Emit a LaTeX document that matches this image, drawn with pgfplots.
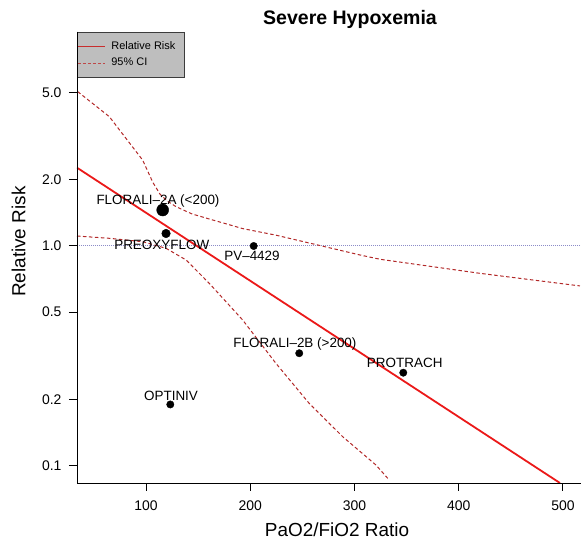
\documentclass[border=0pt]{standalone}
\usepackage{fontspec}
\setmainfont{Liberation Sans}
\usepackage{pgfplots}
\pgfplotsset{compat=1.18}
\definecolor{rrred}{RGB}{235,25,25}
\definecolor{legred}{RGB}{200,45,45}
\definecolor{cired}{RGB}{178,40,40}
\definecolor{refblue}{RGB}{140,140,200}
\definecolor{leggray}{RGB}{190,190,190}
\definecolor{legdraw}{RGB}{60,60,60}
\begin{document}
\begin{tikzpicture}
\useasboundingbox (-77bp,-56bp) rectangle (504bp,483bp);
\begin{axis}[
  name=ax,
  at={(0,0)}, anchor=south west,
  scale only axis, width=504bp, height=451.3bp,
  xmin=33.8, xmax=517.3,
  ymode=log, log basis y=10, ymin=0.0834, ymax=9.45,
  axis line style={draw=none},
  xtick pos=left, ytick pos=left,
  tick style={draw=black, line width=1bp},
  major tick length=8bp, tick align=outside,
  xtick={100,200,300,400,500}, xticklabels={100,200,300,400,500},
  ytick={0.1,0.2,0.5,1,2,5}, yticklabels={0.1,0.2,0.5,1.0,2.0,5.0},
  /pgf/number format/assume math mode=true,
  xticklabel style={font=\fontsize{14}{16}\selectfont, anchor=north, inner sep=0pt, yshift=-10bp},
  yticklabel style={font=\fontsize{14}{16}\selectfont, anchor=east, inner sep=0pt, xshift=-7.3bp},
  title={Severe Hypoxemia},
  title style={at={(axis description cs:0.5417,1.0027)}, anchor=base, font=\bfseries\fontsize{19.6}{22}\selectfont, inner sep=0pt},
  xlabel={PaO2/FiO2 Ratio},
  xlabel style={at={(axis description cs:0.5159,-0.1185)}, anchor=base, font=\fontsize{19}{22}\selectfont, inner sep=0pt},
  ylabel={Relative Risk},
  ylabel style={at={(axis description cs:-0.1022,0.5347)}, anchor=base, font=\fontsize{19}{22}\selectfont, inner sep=0pt},
  legend style={at={(0,1)}, anchor=north west, fill=leggray, draw=legdraw, line width=0.8bp,
    inner xsep=0pt, inner ysep=9bp, row sep=6.2bp, column sep=6bp,
    font=\fontsize{11}{13}\selectfont,
    nodes={inner sep=0pt, text height=8bp, text depth=2.5bp}},
  legend cell align=left,
  legend image code/.code={\draw[#1] (0bp,0bp) -- (27bp,0bp);},
  clip mode=individual,
]
\addlegendimage{color=legred, line width=1bp}
\addlegendentry{\makebox[73bp][l]{Relative Risk}}
\addlegendimage{color=cired!85, line width=1bp, dash pattern=on 3bp off 2bp}
\addlegendentry{\makebox[73bp][l]{95\% CI}}

% reference line at RR = 1
\addplot[refblue, line width=1bp, dash pattern=on 1bp off 1bp, forget plot]
  coordinates {(33.8,1) (517.3,1)};

% upper 95% CI
\addplot[cired, line width=1bp, dash pattern=on 3.5bp off 2.5bp, forget plot]
  coordinates {(34.5,5.04) (64.8,3.88) (96.8,2.46) (106.5,1.95) (113.5,1.72)
  (120.5,1.60) (128.8,1.51) (144.0,1.40)
  (160.7,1.327) (192.8,1.20) (224.7,1.12) (257.3,1.03) (305.3,0.910)
  (324.5,0.870) (420.4,0.751) (516.3,0.658)};

% lower 95% CI
\addplot[cired, line width=1bp, dash pattern=on 3.5bp off 2.5bp, forget plot]
  coordinates {(33.8,1.11) (64.8,1.084) (96.8,1.046) (119.2,0.976) (138.4,0.864)
  (160.7,0.676) (192.8,0.460) (224.7,0.292) (256.6,0.192) (288.7,0.1355)
  (320.6,0.1007) (331.9,0.0876)};

% fitted relative risk
\addplot[rrred, line width=1.8bp, forget plot]
  coordinates {(33.8,2.272) (497.1,0.0834)};

% studies
\addplot[only marks, mark=*, mark size=6bp, black, forget plot]
  coordinates {(116,1.458)};
\addplot[only marks, mark=*, mark size=4.3bp, black, forget plot]
  coordinates {(119.2,1.14)};
\addplot[only marks, mark=*, mark size=3.7bp, black, forget plot]
  coordinates {(203.3,1.0) (247,0.325) (123.3,0.190) (346.8,0.265)};

\begin{scope}[every node/.style={font=\fontsize{13.5}{15}\selectfont, anchor=base, inner sep=0pt}]
\node at (axis cs:111.5,1.537) {FLORALI–2A (<200)};
\node at (axis cs:115.1,0.959) {PREOXYFLOW};
\node at (axis cs:201.7,0.857) {PV–4429};
\node at (axis cs:242.9,0.346) {FLORALI–2B (>200)};
\node at (axis cs:124.0,0.199) {OPTINIV};
\node at (axis cs:348.2,0.2805) {PROTRACH};
\end{scope}

% tick positions, used after the axis
\coordinate (tx1) at (axis cs:100,0.0834);
\coordinate (tx2) at (axis cs:200,0.0834);
\coordinate (tx3) at (axis cs:300,0.0834);
\coordinate (tx4) at (axis cs:400,0.0834);
\coordinate (tx5) at (axis cs:500,0.0834);
\coordinate (ty1) at (axis cs:33.8,0.1);
\coordinate (ty2) at (axis cs:33.8,0.2);
\coordinate (ty3) at (axis cs:33.8,0.5);
\coordinate (ty4) at (axis cs:33.8,1);
\coordinate (ty5) at (axis cs:33.8,2);
\coordinate (ty6) at (axis cs:33.8,5);
\end{axis}
\draw[line width=1bp, black] (ax.north west) -- (ax.south west) -- (ax.south east);
\foreach \t in {tx1,tx2,tx3,tx4,tx5} {\draw[line width=1bp, black] (\t) -- ++(0bp,-8bp);}
\foreach \t in {ty1,ty2,ty3,ty4,ty5,ty6} {\draw[line width=1bp, black] (\t) -- ++(-8bp,0bp);}
\end{tikzpicture}
\end{document}
